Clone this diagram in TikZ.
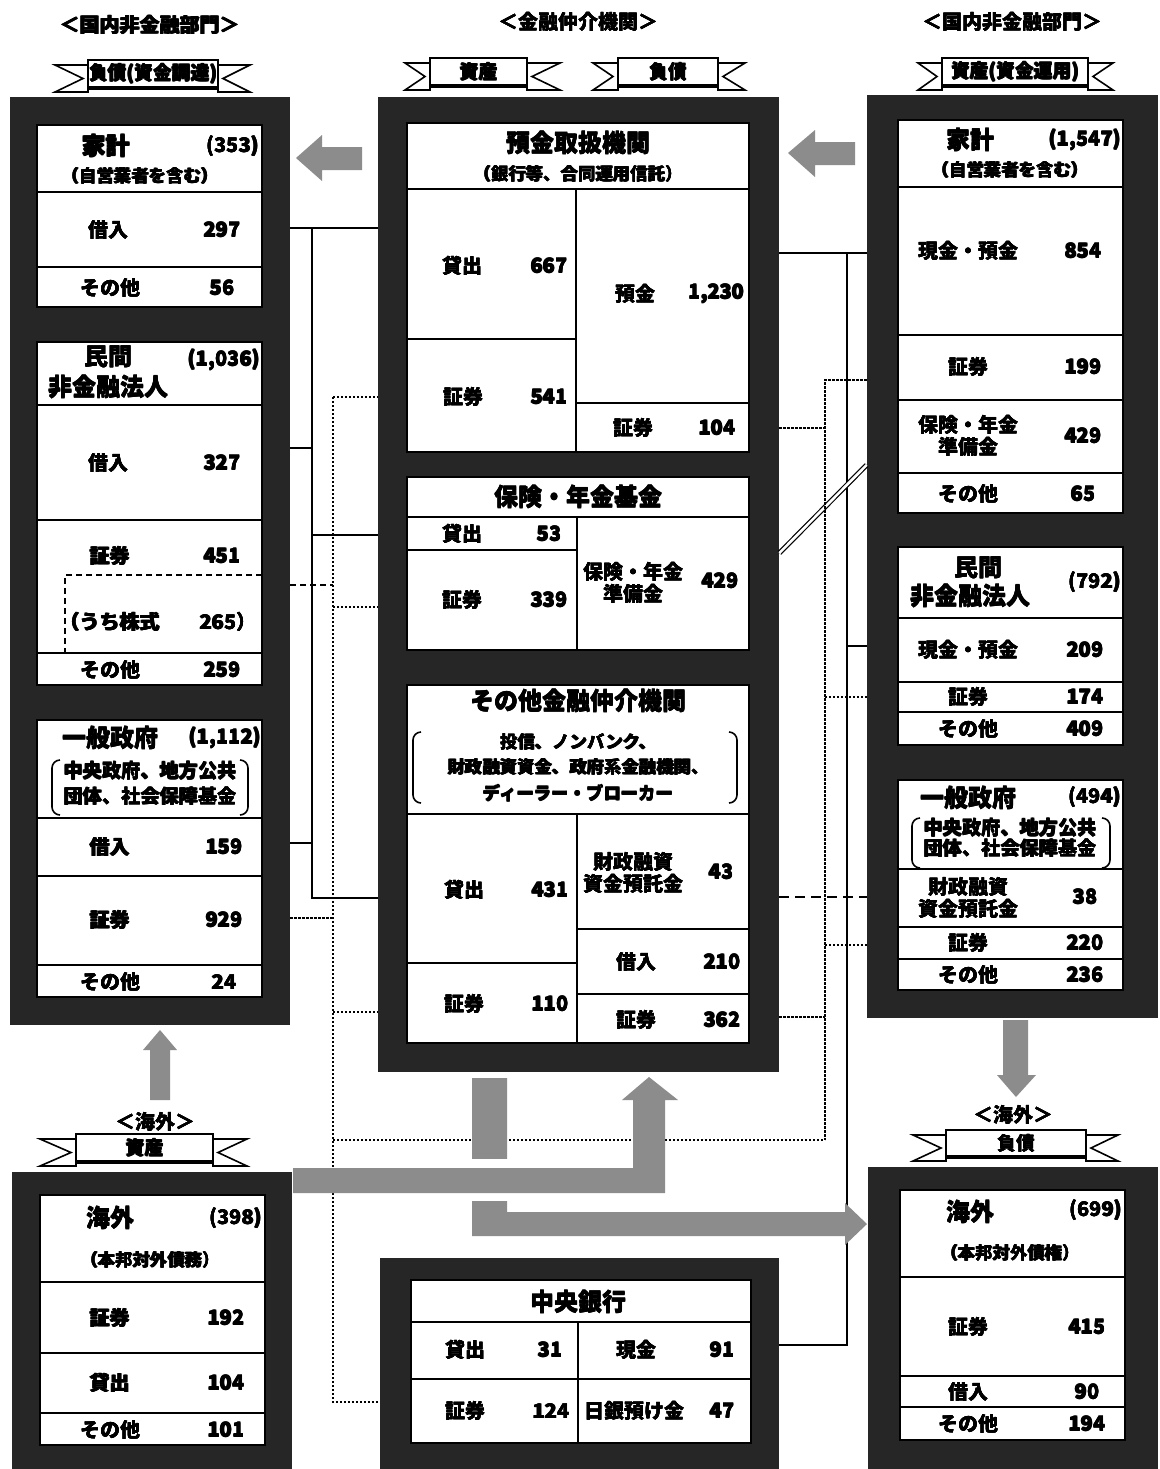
\documentclass[tikz,border=0pt]{standalone}
\usepackage{fontspec}
\setmainfont{Noto Sans CJK JP}
\usetikzlibrary{fit}
\newcommand\fL{\fontsize{10}{11}\selectfont\bfseries}
\newcommand\fT{\fontsize{12}{13}\selectfont\bfseries}
\newcommand\fS{\fontsize{8.7}{10}\selectfont\bfseries}
\newcommand\fB{\fontsize{9.6}{10}\selectfont\bfseries}
\newcommand\fH{\fontsize{10}{11}\selectfont\bfseries}
\newcommand\fR{\fontsize{9.4}{10}\selectfont\bfseries}
\newcommand\hv[1]{\setbox0=\hbox{#1}\hbox to \wd0{\rlap{\copy0}\rlap{\kern0.35pt\copy0}\rlap{\raise0.3pt\copy0}\kern0.35pt\raise0.3pt\copy0\hss}}
\newcommand\Tx[4]{\node[#1] (#2) at (#3) {\hv{#4}};}
\newcommand\ribbonX[8]{%
  \filldraw[rib] (#2,{#6+5}) -- (#3,{#6+5}) -- (#3,{#7+4}) -- (#2,{#7+4}) -- ({#3-5},{(#6+#7)/2+4.5}) -- cycle;
  \filldraw[rib] (#5,{#6+5}) -- (#4,{#6+5}) -- (#4,{#7+4}) -- (#5,{#7+4}) -- ({#4+5},{(#6+#7)/2+4.5}) -- cycle;
  \filldraw[rib] (#3,#6) rectangle (#4,#7);
  \draw[line width=1.6pt] (#3,#7) -- (#4,#7);
  \node[inner sep=0pt,font=\fR] (#1) at ({(#3+#4)/2},{(#6+#7)/2}) {\hv{#8}};}
\begin{document}
\begin{tikzpicture}[x=0.5pt,y=-0.5pt,
 frame/.style={fill=black!85, draw=none, inner sep=0pt},
 box/.style={fill=white, draw=black, line width=0.7pt},
 div/.style={draw=black, line width=0.7pt},
 t/.style={inner sep=0pt, font=\fL},
 tt/.style={inner sep=0pt, font=\fT},
 ts/.style={inner sep=0pt, font=\fS},
 tb/.style={inner sep=0pt, font=\fB},
 th/.style={inner sep=0pt, font=\fH},
 conn/.style={draw=black, line width=0.9pt},
 dotc/.style={draw=black, line width=0.8pt, dash pattern=on 1.2pt off 0.8pt},
 dashc/.style={draw=black, line width=0.9pt, dash pattern=on 3pt off 2pt},
 thickdash/.style={draw=black, line width=1.4pt, dash pattern=on 5pt off 3pt},
 garrow/.style={fill=black!45},
 brk/.style={draw=black, line width=0.8pt, rounded corners=4pt},
 rib/.style={fill=white, draw=black, line width=0.8pt, line join=miter}]
\useasboundingbox (0,0) rectangle (1160,1469);
\fill[white] (0,0) rectangle (1160,1469);

% ---------- headers
\Tx{th}{hL}{150,25}{＜国内非金融部門＞}
\Tx{th}{hC}{578,22}{＜金融仲介機関＞}
\Tx{th}{hR}{1012,22}{＜国内非金融部門＞}
\ribbonX{rL}{55}{88}{218}{250}{60}{88}{負債(資金調達)}
\ribbonX{rC1}{405}{430}{527}{560}{58}{86}{資産}
\ribbonX{rC2}{593}{618}{718}{745}{58}{86}{負債}
\ribbonX{rR}{918}{942}{1088}{1113}{58}{86}{資産(資金運用)}

% ---------- frames
\node[frame, fit={(10,97) (290,1025)}] (LF) {};
\node[frame, fit={(378,97) (779,1072)}] (CF) {};
\node[frame, fit={(867,95) (1158,1018)}] (RF) {};
\node[frame, fit={(12,1172) (292,1469)}] (LBF) {};
\node[frame, fit={(380,1258) (779,1469)}] (CBF) {};
\node[frame, fit={(868,1167) (1158,1469)}] (RBF) {};

% ---------- left boxes
\draw[box] (37,125) rectangle (262,307);
\foreach \y in {192,267} \draw[div] (37,\y) -- (262,\y);
\draw[box] (37,342) rectangle (262,685);
\foreach \y in {405,520,653} \draw[div] (37,\y) -- (262,\y);
\draw[dashc] (262,575) -- (65,575) -- (65,653);
\draw[box] (37,720) rectangle (262,997);
\foreach \y in {818,876,965} \draw[div] (37,\y) -- (262,\y);
\draw[brk] (60,760) -- (52,760) -- (52,815) -- (60,815);
\draw[brk] (240,760) -- (248,760) -- (248,815) -- (240,815);

% ---------- center boxes
\draw[box] (407,123) rectangle (749,452);
\draw[div] (407,189) -- (749,189);
\draw[div] (576,189) -- (576,452);
\draw[div] (407,339) -- (576,339);
\draw[div] (576,403) -- (749,403);
\draw[box] (407,477) rectangle (749,650);
\draw[div] (407,517) -- (749,517);
\draw[div] (577,517) -- (577,650);
\draw[div] (407,550) -- (577,550);
\draw[box] (407,685) rectangle (749,1043);
\draw[div] (407,814) -- (749,814);
\draw[div] (577,814) -- (577,1043);
\draw[div] (407,963) -- (577,963);
\draw[div] (577,929) -- (749,929);
\draw[div] (577,994) -- (749,994);
\draw[brk] (421,732) -- (413,732) -- (413,803) -- (421,803);
\draw[brk] (729,732) -- (737,732) -- (737,803) -- (729,803);

% ---------- right boxes
\draw[box] (898,120) rectangle (1123,513);
\foreach \y in {187,335,400,473} \draw[div] (898,\y) -- (1123,\y);
\draw[box] (898,547) rectangle (1123,745);
\foreach \y in {618,682,712} \draw[div] (898,\y) -- (1123,\y);
\draw[box] (898,780) rectangle (1123,990);
\foreach \y in {869,927,959} \draw[div] (898,\y) -- (1123,\y);
\draw[brk] (920,818) -- (912,818) -- (912,868) -- (920,868);
\draw[brk] (1102,818) -- (1110,818) -- (1110,868) -- (1102,868);

% ---------- bottom boxes
\draw[box] (40,1195) rectangle (265,1445);
\foreach \y in {1282,1353,1413} \draw[div] (40,\y) -- (265,\y);
\draw[box] (411,1280) rectangle (751,1443);
\draw[div] (411,1322) -- (751,1322);
\draw[div] (578,1322) -- (578,1443);
\draw[div] (411,1379) -- (751,1379);
\draw[box] (900,1190) rectangle (1125,1440);
\foreach \y in {1277,1376,1407} \draw[div] (900,\y) -- (1125,\y);
\Tx{th}{hLB}{155,1122}{＜海外＞}
\Tx{th}{hRB}{1013,1115}{＜海外＞}
\ribbonX{rLB}{40}{76}{213}{247}{1134}{1162}{資産}
\ribbonX{rRB}{913}{946}{1086}{1118}{1130}{1157}{負債}

% ---------- left texts
\Tx{tt}{l1}{106,146}{家計}
\Tx{t,anchor=east}{l2}{259,146}{(353)}
\Tx{ts}{l3}{140,176}{（自営業者を含む）}
\Tx{t}{l4}{108,230}{借入}   \Tx{t}{l5}{222,230}{297}
\Tx{t}{l6}{110,288}{その他} \Tx{t}{l7}{222,288}{56}
\Tx{tt}{l8}{108,357}{民間}
\Tx{tt}{l9}{108,387}{非金融法人}
\Tx{t,anchor=east}{l10}{260,360}{(1,036)}
\Tx{t}{l11}{108,463}{借入}  \Tx{t}{l12}{222,463}{327}
\Tx{t}{l13}{110,556}{証券}  \Tx{t}{l14}{222,556}{451}
\Tx{t}{l15}{110,622}{（うち株式} \Tx{t}{l16}{228,622}{265）}
\Tx{t}{l17}{110,670}{その他} \Tx{t}{l18}{222,670}{259}
\Tx{tt}{l19}{110,738}{一般政府}
\Tx{t,anchor=east}{l20}{261,738}{(1,112)}
\Tx{tb}{l21}{150,771}{中央政府、地方公共}
\Tx{tb}{l22}{150,796}{団体、社会保障基金}
\Tx{t}{l23}{110,847}{借入}  \Tx{t}{l24}{224,847}{159}
\Tx{t}{l25}{110,920}{証券}  \Tx{t}{l26}{224,920}{929}
\Tx{t}{l27}{110,982}{その他} \Tx{t}{l28}{224,982}{24}

% ---------- center texts
\Tx{tt}{c1}{578,143}{預金取扱機関}
\Tx{ts}{c2}{578,174}{（銀行等、合同運用信託）}
\Tx{t}{c3}{462,266}{貸出}  \Tx{t}{c4}{549,266}{667}
\Tx{t}{c5}{635,294}{預金}  \Tx{t}{c6}{716,294}{1,230}
\Tx{t}{c7}{463,397}{証券}  \Tx{t}{c8}{549,397}{541}
\Tx{t}{c9}{633,428}{証券}  \Tx{t}{c10}{717,428}{104}
\Tx{tt}{c11}{578,497}{保険・年金基金}
\Tx{t}{c12}{462,534}{貸出} \Tx{t}{c13}{549,534}{53}
\Tx{t}{c14}{462,600}{証券} \Tx{t}{c15}{549,600}{339}
\Tx{t}{c16}{633,572}{保険・年金}
\Tx{t}{c17}{633,594}{準備金}
\Tx{t}{c18}{720,581}{429}
\Tx{tt}{c19}{578,701}{その他金融仲介機関}
\Tx{ts}{c20}{578,742}{投信、ノンバンク、}
\Tx{ts}{c21}{578,767}{財政融資資金、政府系金融機関、}
\Tx{ts}{c22}{578,793}{ディーラー・ブローカー}
\Tx{t}{c23}{464,890}{貸出}  \Tx{t}{c24}{550,890}{431}
\Tx{t}{c25}{464,1004}{証券} \Tx{t}{c26}{550,1004}{110}
\Tx{t}{c27}{633,862}{財政融資}
\Tx{t}{c28}{633,884}{資金預託金}
\Tx{t}{c29}{721,872}{43}
\Tx{t}{c30}{636,962}{借入}  \Tx{t}{c31}{722,962}{210}
\Tx{t}{c32}{636,1020}{証券} \Tx{t}{c33}{722,1020}{362}
\Tx{tt}{c34}{578,1302}{中央銀行}
\Tx{t}{c35}{465,1350}{貸出}  \Tx{t}{c36}{550,1350}{31}
\Tx{t}{c37}{636,1350}{現金}  \Tx{t}{c38}{722,1350}{91}
\Tx{t}{c39}{465,1411}{証券}  \Tx{t}{c40}{551,1411}{124}
\Tx{t}{c41}{634,1411}{日銀預け金} \Tx{t}{c42}{722,1411}{47}

% ---------- right texts
\Tx{tt}{r1}{970,140}{家計}
\Tx{t,anchor=east}{r2}{1121,140}{(1,547)}
\Tx{ts}{r3}{1010,170}{（自営業者を含む）}
\Tx{t}{r4}{968,251}{現金・預金} \Tx{t}{r5}{1083,251}{854}
\Tx{t}{r6}{968,367}{証券}   \Tx{t}{r7}{1083,367}{199}
\Tx{t}{r8}{968,425}{保険・年金}
\Tx{t}{r9}{968,447}{準備金}
\Tx{t}{r10}{1083,436}{429}
\Tx{t}{r11}{968,494}{その他} \Tx{t}{r12}{1083,494}{65}
\Tx{tt}{r13}{978,568}{民間}
\Tx{tt}{r14}{970,596}{非金融法人}
\Tx{t,anchor=east}{r15}{1121,582}{(792)}
\Tx{t}{r16}{968,650}{現金・預金} \Tx{t}{r17}{1085,650}{209}
\Tx{t}{r18}{968,697}{証券}   \Tx{t}{r19}{1085,697}{174}
\Tx{t}{r20}{968,729}{その他} \Tx{t}{r21}{1085,729}{409}
\Tx{tt}{r22}{968,798}{一般政府}
\Tx{t,anchor=east}{r23}{1121,797}{(494)}
\Tx{tb}{r24}{1010,828}{中央政府、地方公共}
\Tx{tb}{r25}{1010,848}{団体、社会保障基金}
\Tx{t}{r26}{968,887}{財政融資}
\Tx{t}{r27}{968,909}{資金預託金}
\Tx{t}{r28}{1085,897}{38}
\Tx{t}{r29}{968,943}{証券}   \Tx{t}{r30}{1085,943}{220}
\Tx{t}{r31}{968,975}{その他} \Tx{t}{r32}{1085,975}{236}

% ---------- bottom side texts
\Tx{tt}{b1}{110,1218}{海外}
\Tx{t,anchor=east}{b2}{262,1218}{(398)}
\Tx{ts}{b3}{150,1260}{（本邦対外債務）}
\Tx{t}{b4}{110,1318}{証券}  \Tx{t}{b5}{226,1318}{192}
\Tx{t}{b6}{110,1383}{貸出}  \Tx{t}{b7}{226,1383}{104}
\Tx{t}{b8}{110,1430}{その他} \Tx{t}{b9}{226,1430}{101}
\Tx{tt}{b10}{970,1212}{海外}
\Tx{t,anchor=east}{b11}{1122,1210}{(699)}
\Tx{ts}{b12}{1010,1253}{（本邦対外債権）}
\Tx{t}{b13}{968,1327}{証券}  \Tx{t}{b14}{1087,1327}{415}
\Tx{t}{b15}{968,1392}{借入}  \Tx{t}{b16}{1087,1392}{90}
\Tx{t}{b17}{968,1424}{その他} \Tx{t}{b18}{1087,1424}{194}

% ---------- connectors
\coordinate (jl1) at (312,228);
\coordinate (jl2) at (312,898);
\coordinate (dl1) at (333,397);
\coordinate (dl2) at (333,1402);
\coordinate (jr1) at (847,253);
\coordinate (jr2) at (847,1345);
\coordinate (dr1) at (825,380);
\coordinate (dr2) at (825,1140);
\draw[conn] (LF.east |- jl1) -- (CF.west |- jl1);
\draw[conn] (jl1) -- (jl2) -- (CF.west |- jl2);
\draw[conn] (LF.east |- 0,448) -- (312,448);
\draw[conn] (LF.east |- 0,843) -- (312,843);
\draw[conn] (312,535) -- (CF.west |- 0,535);
\draw[dotc] (dl1) -- (dl2) -- (CBF.west |- dl2);
\draw[dotc] (dl1) -- (CF.west |- dl1);
\draw[dashc] (LF.east |- 0,585) -- (333,585);
\draw[dotc] (333,607) -- (CF.west |- 0,607);
\draw[dotc] (LF.east |- 0,918) -- (333,918);
\draw[dotc] (333,1012) -- (CF.west |- 0,1012);
\draw[dotc] (333,1140) -- (dr2);
\draw[conn] (CF.east |- jr1) -- (RF.west |- jr1);
\draw[conn] (jr1) -- (jr2) -- (CBF.east |- jr2);
\draw[conn] (847,646) -- (RF.west |- 0,646);
\draw[conn, line width=0.6pt, double, double distance=1.3pt] (CF.east |- 0,553) -- (RF.west |- 0,465);
\draw[dotc] (RF.west |- dr1) -- (dr1) -- (dr2);
\draw[dotc] (CF.east |- 0,428) -- (825,428);
\draw[dotc] (825,697) -- (RF.west |- 0,697);
\draw[dotc] (825,945) -- (RF.west |- 0,945);
\draw[dotc] (CF.east |- 0,1017) -- (825,1017);
\draw[thickdash] (CF.east |- 0,897) -- (RF.west |- 0,897);

% ---------- gray flow arrows
\fill[garrow] (296,158) -- (322,135) -- (322,147) -- (362,147) -- (362,170) -- (322,170) -- (322,181) -- cycle;
\fill[garrow] (788,153) -- (815,130) -- (815,142) -- (855,142) -- (855,165) -- (815,165) -- (815,177) -- cycle;
\fill[garrow] (160,1030) -- (177,1050) -- (170,1050) -- (170,1100) -- (150,1100) -- (150,1050) -- (143,1050) -- cycle;
\fill[garrow] (1016,1097) -- (1036,1075) -- (1028,1075) -- (1028,1020) -- (1003,1020) -- (1003,1075) -- (997,1075) -- cycle;
\fill[garrow] (472,1078) -- (507,1078) -- (507,1212) -- (845,1212) -- (845,1203) -- (867,1224) -- (845,1245) -- (845,1236) -- (472,1236) -- cycle;
\fill[white] (466,1159) rectangle (513,1201);
\fill[garrow] (293,1168) -- (633,1168) -- (633,1100) -- (622,1100) -- (649,1077) -- (678,1100) -- (665,1100) -- (665,1193) -- (293,1193) -- cycle;
\end{tikzpicture}
\end{document}
